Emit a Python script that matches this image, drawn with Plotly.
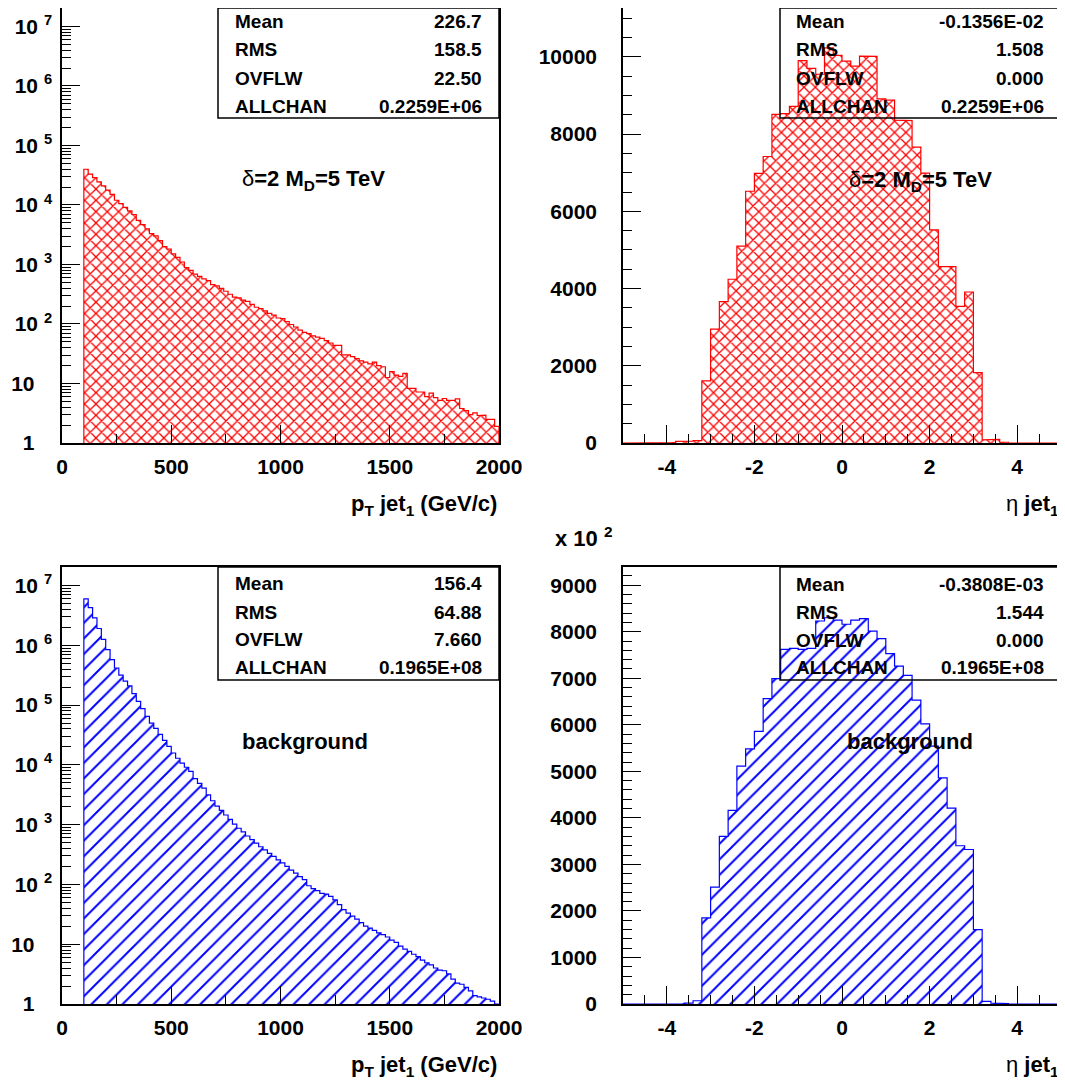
import plotly.graph_objects as go

# the page body adds an 8 px margin, so the figure is drawn 8 px smaller and
# every reference pixel position is shifted by that offset
PAGE_OFFSET = 8
W, H = 1065 - PAGE_OFFSET, 1085 - PAGE_OFFSET

# ---------------- data ----------------
PT_FIRST_EDGE = 100.0
PT_BIN_WIDTH = 20.0
signal_pt_counts = [
    39800, 33100, 28800, 24500, 20900, 17800, 15100, 12000, 10500, 9120,
    7940, 6920, 5500, 4680, 3980, 3310, 3020, 2510, 2000, 1820,
    1510, 1320, 1100, 890, 795, 690, 630, 575, 537, 457,
    437, 398, 355, 316, 282, 275, 251, 240, 214, 191,
    182, 166, 151, 141, 126, 123, 110, 98, 89, 79,
    72, 69, 63, 60, 57.5, 52.5, 47.9, 43.7, 43.7, 30.2,
    30.2, 28.2, 26.3, 24.0, 22.9, 21.4, 22.9, 20.0, 19.1, 12.6,
    15.8, 13.8, 13.2, 14.8, 8.3, 8.3, 7.2, 7.2, 6.0, 6.9,
    5.8, 5.2, 5.6, 5.2, 5.2, 5.5, 3.8, 3.5, 3.0, 3.2,
    2.9, 2.95, 2.5, 2.5, 1.9,
]
background_pt_counts = [
    6.0e6, 4.27e6, 2.88e6, 1.91e6, 1.26e6, 8.5e5, 5.75e5, 4.17e5, 3.16e5, 2.51e5,
    2.09e5, 1.55e5, 1.15e5, 8.7e4, 6.46e4, 5.0e4, 4.07e4, 3.24e4, 2.57e4, 2.04e4,
    1.58e4, 1.29e4, 1.07e4, 9120, 7760, 5890, 4900, 4070, 3160, 2510,
    2040, 1740, 1450, 1230, 1020, 871, 759, 646, 562, 490,
    427, 380, 331, 295, 257, 229, 200, 174, 155, 135,
    120, 95, 85, 79, 71, 69, 63, 55, 46, 38,
    33, 29.5, 26.3, 22.9, 20.0, 18.6, 17.0, 15.5, 14.5, 13.2,
    11.7, 10.7, 9.3, 8.3, 7.6, 6.8, 6.2, 5.4, 4.9, 4.5,
    4.0, 3.7, 3.6, 3.2, 2.6, 2.24, 2.14, 1.9, 1.66, 1.38,
    1.32, 1.26, 1.2, 1.12, 0,
]

ETA_FIRST_EDGE = -5.0
ETA_BIN_WIDTH = 0.2
signal_eta_counts = [
    0, 0, 0, 0, 0, 10, 40, 50, 60, 1610,
    2950, 3660, 4240, 5100, 6520, 6980, 7420, 8510, 8530, 8720,
    9900, 9700, 9550, 10230, 10040, 9890, 9760, 10020, 10010, 8910,
    8880, 8360, 8350, 7660, 6990, 5520, 4570, 4570, 3540, 3910,
    1820, 80, 95, 20, 0, 0, 0, 0, 0, 0,
]
# background eta in units of 10^2 entries (axis shows "x 10^2")
background_eta_counts_x100 = [
    0, 0, 0, 0, 0, 0, 5, 20, 70, 1850,
    2510, 3600, 4160, 5110, 5480, 5860, 6560, 6990, 7620, 7640,
    7620, 7640, 8230, 8300, 8250, 8160, 8250, 8280, 8010, 7850,
    7530, 7260, 7060, 6530, 6020, 5540, 4860, 4210, 3400, 3320,
    1600, 56, 20, 10, 0, 0, 0, 0, 0, 0,
]

stat_names = ["Mean", "RMS", "OVFLW", "ALLCHAN"]
signal_pt_stats = ["226.7", "158.5", "22.50", "0.2259E+06"]
signal_eta_stats = ["-0.1356E-02", "1.508", "0.000", "0.2259E+06"]
background_pt_stats = ["156.4", "64.88", "7.660", "0.1965E+08"]
background_eta_stats = ["-0.3808E-03", "1.544", "0.000", "0.1965E+08"]

NB = "\u00a0"
log_tick_values = [1, 10, 100, 1000, 10000, 100000, 1000000, 10000000]
log_tick_labels = ["1" + NB * 3, "10" + NB * 3, "10" + NB + "<sup>2</sup>", "10" + NB + "<sup>3</sup>",
                   "10" + NB + "<sup>4</sup>", "10" + NB + "<sup>5</sup>", "10" + NB + "<sup>6</sup>",
                   "10" + NB + "<sup>7</sup>"]
eta_tick_values = [-4, -2, 0, 2, 4]
eta_tick_labels = ["-4", "-2", "0", "2", "4"]

signal_label = "<span style='font-weight:normal'>δ</span>=2 M<sub>D</sub>=5 TeV"
background_label = "background"
pt_title = "p<sub>T</sub> jet<sub>1</sub> (GeV/c)"
eta_title = "<span style='font-weight:normal'>η</span> jet<sub>1</sub>"
multiplier_label = "x 10" + NB + "<sup>2</sup>"

# ---------------- style / layout constants (reference pixels) ----------------
FONT = "Liberation Sans, Arial, Helvetica, sans-serif"
RED = "#ff0000"
BLUE = "#0000ff"
LEFT = (62, 499)
RIGHT = (623, 1061)
TOP = (7, 443)
BOT = (567, 1004)


def fx(x):
    return (x - PAGE_OFFSET) / W


def fy(y):
    return 1 - (y - PAGE_OFFSET) / H


def clamp(v):
    return max(0.0, min(1.0, v))


fig = go.Figure()


def add_hist(first_edge, width, counts, color, shape, size, solidity, xa, ya, floor):
    n = len(counts)
    centers = [first_edge + width * (i + 0.5) for i in range(n)]
    fig.add_trace(go.Bar(
        x=centers, y=counts, width=[width] * n, xaxis=xa, yaxis=ya,
        marker=dict(color=color, line=dict(width=0),
                    pattern=dict(shape=shape, size=size, solidity=solidity,
                                 fillmode="replace", bgcolor="rgba(0,0,0,0)", fgcolor=color)),
        showlegend=False, hoverinfo="skip",
    ))
    xs = [first_edge]
    ys = [floor]
    for i, c in enumerate(counts):
        v = c if c > floor else floor
        xs += [first_edge + width * i, first_edge + width * (i + 1)]
        ys += [v, v]
    xs.append(first_edge + width * n)
    ys.append(floor)
    fig.add_trace(go.Scatter(x=xs, y=ys, mode="lines", xaxis=xa, yaxis=ya,
                             line=dict(color=color, width=1.2),
                             showlegend=False, hoverinfo="skip"))


add_hist(PT_FIRST_EDGE, PT_BIN_WIDTH, signal_pt_counts, RED, "x", 8, 0.3, "x", "y", 1)
add_hist(ETA_FIRST_EDGE, ETA_BIN_WIDTH, signal_eta_counts, RED, "x", 8, 0.3, "x2", "y2", 0)
add_hist(PT_FIRST_EDGE, PT_BIN_WIDTH, background_pt_counts, BLUE, "/", 11, 0.18, "x3", "y3", 1)
add_hist(ETA_FIRST_EDGE, ETA_BIN_WIDTH, background_eta_counts_x100, BLUE, "/", 11, 0.18, "x4", "y4", 0)

tickfont = dict(family=FONT, size=21, color="black", weight="bold")
base = dict(showline=True, mirror=True, linecolor="black", linewidth=1.5,
            ticks="inside", ticklen=18, tickwidth=1, tickcolor="black", automargin=False,
            showgrid=False, zeroline=False, tickfont=tickfont, layer="above traces")


def minor(dt):
    return dict(dtick=dt, ticks="inside", ticklen=9, tickwidth=1, tickcolor="black", showgrid=False)


def xdom(dom):
    return [clamp(fx(dom[0])), clamp(fx(dom[1]))]


def ydom(dom):
    return [clamp(fy(dom[1])), clamp(fy(dom[0]))]


def pt_xaxis(dom, anchor):
    d = dict(base)
    d.update(domain=xdom(dom), range=[0, 2000], dtick=500, tick0=0,
             tickformat="d", anchor=anchor, ticklabelstandoff=4, minor=minor(250))
    return d


def eta_xaxis(dom, anchor):
    d = dict(base)
    d.update(domain=xdom(dom), range=[-5, 5], tickmode="array",
             tickvals=eta_tick_values, ticktext=eta_tick_labels,
             anchor=anchor, ticklabelstandoff=4, minor=dict(minor(0.5), tick0=0))
    return d


def logy(dom, anchor):
    d = dict(base)
    d.update(domain=ydom(dom), type="log", range=[0, 7.31],
             tickmode="array", tickvals=log_tick_values, ticktext=log_tick_labels,
             anchor=anchor, ticklabelstandoff=4, minor=minor("D1"))
    return d


def liny(dom, rng, dtick, mdt, anchor):
    d = dict(base)
    d.update(domain=ydom(dom), range=rng, dtick=dtick, tick0=0,
             tickformat="d", anchor=anchor, ticklabelstandoff=20, minor=minor(mdt))
    return d


fig.update_layout(
    width=W, height=H, margin=dict(l=0, r=0, t=0, b=0, autoexpand=False),
    paper_bgcolor="white", plot_bgcolor="white",
    bargap=0, barmode="overlay", showlegend=False,
    xaxis=pt_xaxis(LEFT, "y"),
    yaxis=logy(TOP, "x"),
    xaxis2=eta_xaxis(RIGHT, "y2"),
    yaxis2=liny(TOP, [0, 11265], 2000, 500, "x2"),
    xaxis3=pt_xaxis(LEFT, "y3"),
    yaxis3=logy(BOT, "x3"),
    xaxis4=eta_xaxis(RIGHT, "y4"),
    yaxis4=liny(BOT, [0, 9390], 1000, 200, "x4"),
)

annotations = []
shapes = []
stat_font = dict(family=FONT, size=19, color="black", weight="bold")


def stats_box(x0, x1, y0, y1, label_x, value_x, rows_y, values):
    shapes.append(dict(type="rect", xref="paper", yref="paper",
                       x0=fx(x0), x1=fx(x1), y0=fy(y1), y1=clamp(fy(y0)),
                       line=dict(color="black", width=1.5), fillcolor="rgba(0,0,0,0)",
                       layer="above"))
    for name, val, ry in zip(stat_names, values, rows_y):
        annotations.append(dict(x=fx(label_x), y=fy(ry), xref="paper", yref="paper",
                                text=name, showarrow=False, xanchor="left", yanchor="middle",
                                font=stat_font))
        annotations.append(dict(x=fx(value_x), y=fy(ry), xref="paper", yref="paper",
                                text=val, showarrow=False, xanchor="right", yanchor="middle",
                                font=stat_font))


stats_box(218, 499, 7, 118, 233, 484, [22, 50, 78, 106], signal_pt_stats)
stats_box(780, 1061, 7, 118, 794, 1046, [22, 50, 78, 106], signal_eta_stats)
stats_box(218, 499, 567, 680, 233, 484, [583, 612, 639, 667], background_pt_stats)
stats_box(780, 1061, 567, 680, 794, 1046, [584, 612, 640, 667], background_eta_stats)

big_font = dict(family=FONT, size=22, color="black", weight="bold")


def text(x, y, s, xanchor="center"):
    annotations.append(dict(x=fx(x), y=fy(y), xref="paper", yref="paper", text=s,
                            showarrow=False, xanchor=xanchor, yanchor="middle", font=big_font))


text(313, 180, signal_label)
text(920, 181, signal_label)
text(305, 741, background_label)
text(910, 741, background_label)
text(499, 505, pt_title, "right")
text(1061, 505, eta_title, "right")
text(499, 1066, pt_title, "right")
text(1061, 1066, eta_title, "right")
text(553, 537, multiplier_label, "left")

fig.update_layout(annotations=annotations, shapes=shapes)
fig.write_html("out.html")
